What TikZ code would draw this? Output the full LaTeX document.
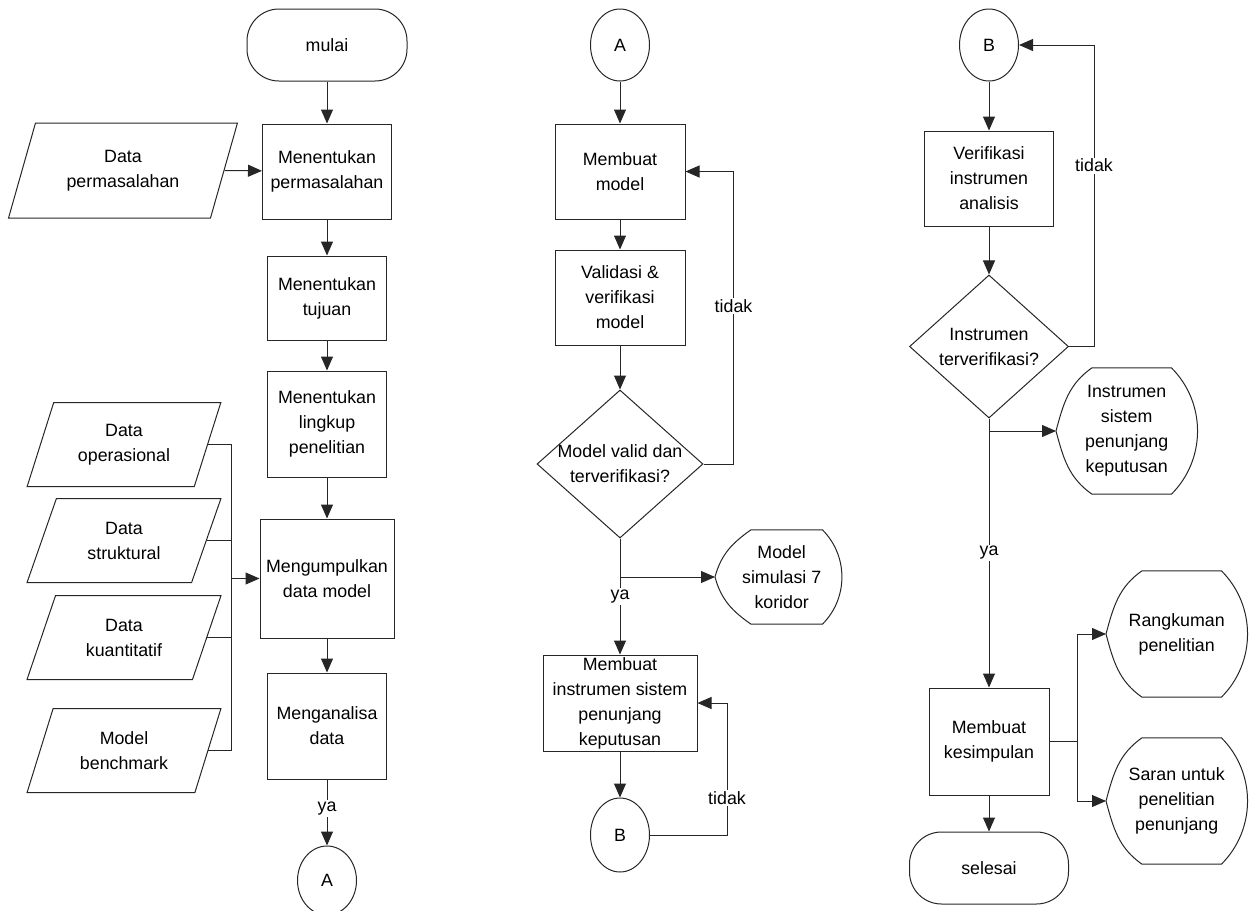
\documentclass[tikz,border=0pt]{standalone}
\usepackage{fontspec}
\setmainfont{Liberation Sans}
\usetikzlibrary{positioning, arrows.meta, shapes.geometric}

\begin{document}
\begin{tikzpicture}[
  x=1pt, y=-1pt,
  font=\fontsize{17.8}{25}\selectfont,
  every node/.style={align=center},
  flowline/.style={line width=1pt, draw=black!85},
  proc/.style={draw=black!85, line width=1pt, inner sep=1pt,
               minimum width=119pt},
  term/.style={draw=black!85, line width=1pt, rounded corners=32pt,
               minimum width=160pt, minimum height=72pt},
  conn/.style={draw=black!85, line width=1pt, ellipse, inner sep=0pt,
               minimum width=59pt, minimum height=72pt},
  dec/.style={draw=black!85, line width=1pt, diamond, inner sep=-6pt},
  dataio/.style={draw=black!85, line width=1pt, trapezium,
                 trapezium left angle=67, trapezium right angle=113,
                 trapezium stretches=true, inner sep=0pt,
                 minimum width=194pt, minimum height=84pt},
  disp/.style={inner sep=0pt, minimum width=141pt, minimum height=126pt,
    append after command={\pgfextra{\draw[flowline]
      (\tikzlastnode.west) to[out=75, in=215] ([xshift=36pt]\tikzlastnode.north west)
      -- ([xshift=-26pt]\tikzlastnode.north east)
      to[out=-45, in=45] ([xshift=-26pt]\tikzlastnode.south east)
      -- ([xshift=36pt]\tikzlastnode.south west)
      to[out=145, in=-75] (\tikzlastnode.west);}}},
  arrow/.style={flowline, -{Triangle[length=14pt, width=12pt]}},
  lbl/.style={fill=white, inner sep=1.5pt}
]
\useasboundingbox (0,0) rectangle (1254,911);

% kolom 1
\node[term] (mulai) at (327,45) {mulai};
\node[proc, minimum width=129pt, minimum height=95pt, below=42pt of mulai] (tentu) {Menentukan\\permasalahan};
\node[proc, minimum height=84pt, below=36pt of tentu] (tujuan) {Menentukan\\tujuan};
\node[proc, minimum height=106pt, below=30pt of tujuan] (lingkup) {Menentukan\\lingkup\\penelitian};
\node[proc, minimum width=134pt, minimum height=119pt, below=41pt of lingkup] (kumpul) {Mengumpulkan\\data model};
\node[proc, minimum height=106pt, below=34pt of kumpul] (analisa) {Menganalisa\\data};
\node[conn, minimum height=69pt, below=66pt of analisa] (conA) {A};

\node[dataio, minimum width=229pt, minimum height=95pt] (dperm) at (123,170.5) {Data\\permasalahan};
\node[dataio] (dops) at (124,444.5) {Data\\operasional};
\node[dataio, below=11pt of dops] (dstruk) {Data\\struktural};
\node[dataio, below=12pt of dstruk] (dkuan) {Data\\kuantitatif};
\node[dataio, below=28pt of dkuan] (dbench) {Model\\benchmark};
\coordinate[left=28pt of kumpul.west] (merge);

\draw[arrow] (mulai) -- (tentu);
\draw[arrow] (dperm.right side) -- (tentu);
\draw[arrow] (tentu) -- (tujuan);
\draw[arrow] (tujuan) -- (lingkup);
\draw[arrow] (lingkup) -- (kumpul);
\draw[arrow] (kumpul) -- (analisa);
\draw[arrow] (analisa) -- node[lbl, pos=0.44] {ya} (conA);
\draw[flowline] (dops.right side) -| (merge);
\draw[flowline] (dstruk.right side) -| (merge);
\draw[flowline] (dkuan.right side) -| (merge);
\draw[flowline] (dbench.right side) -| (merge);
\draw[arrow] (merge) -- (kumpul);

% kolom 2
\node[conn] (conA2) at (620,45) {A};
\node[proc, minimum width=130pt, minimum height=95pt, below=42pt of conA2] (model) {Membuat\\model};
\node[proc, minimum width=130pt, minimum height=95pt, below=30pt of model] (valid) {Validasi \&\\verifikasi\\model};
\node[dec, minimum width=166pt, minimum height=148pt, below=44pt of valid] (cekmodel) {Model valid dan\\terverifikasi?};
\node[proc, minimum width=154pt, minimum height=96pt, below=116pt of cekmodel] (instr) {Membuat\\instrumen sistem\\penunjang\\keputusan};
\node[conn, minimum height=74pt, below=46pt of instr] (conB) {B};
\node[disp, minimum width=133pt, minimum height=94pt, anchor=west] (simul) at (715,577) {Model\\simulasi 7\\koridor};

\draw[arrow] (conA2) -- (model);
\draw[arrow] (model) -- (valid);
\draw[arrow] (valid) -- (cekmodel);
\draw[arrow] (cekmodel.east) -- ++(30,0) |- node[lbl, pos=0.27] {tidak} (model.east);
\draw[arrow] (cekmodel.south) -- node[lbl] {ya} (instr);
\draw[arrow] (cekmodel.south) |- (simul.west);
\draw[arrow] (instr) -- (conB);
\draw[arrow] (conB.east) -- ++(77,0) |- node[lbl, pos=0.14] {tidak} (instr.east);

% kolom 3
\node[conn] (conB2) at (989,45) {B};
\node[proc, minimum width=129pt, minimum height=95pt, below=49pt of conB2] (verif) {Verifikasi\\instrumen\\analisis};
\node[dec, minimum width=159pt, minimum height=143pt, below=48pt of verif] (cekinst) {Instrumen\\terverifikasi?};
\node[proc, minimum width=120pt, minimum height=107pt, below=269pt of cekinst] (simpul) {Membuat\\kesimpulan};
\node[term, minimum width=159pt, below=36pt of simpul] (selesai) {selesai};
\node[disp, anchor=west] (hasil) at (1056,431) {Instrumen\\sistem\\penunjang\\keputusan};
\coordinate[right=28pt of simpul.east] (cabang);
\node[disp, anchor=west] (rangkum) at (1106,634) {Rangkuman\\penelitian};
\node[disp, anchor=west] (saran) at (1106,801) {Saran untuk\\penelitian\\penunjang};

\draw[arrow] (conB2) -- (verif);
\draw[arrow] (verif) -- (cekinst);
\draw[arrow] (cekinst.east) -- ++(25,0) |- node[lbl, pos=0.3] {tidak} (conB2.east);
\draw[arrow] (cekinst.south) |- (hasil.west);
\draw[arrow] (cekinst.south) -- node[lbl] {ya} (simpul);
\draw[arrow] (simpul) -- (selesai);
\draw[flowline] (simpul.east) -- (cabang);
\draw[arrow] (cabang) |- (rangkum.west);
\draw[arrow] (cabang) |- (saran.west);

\end{tikzpicture}
\end{document}
